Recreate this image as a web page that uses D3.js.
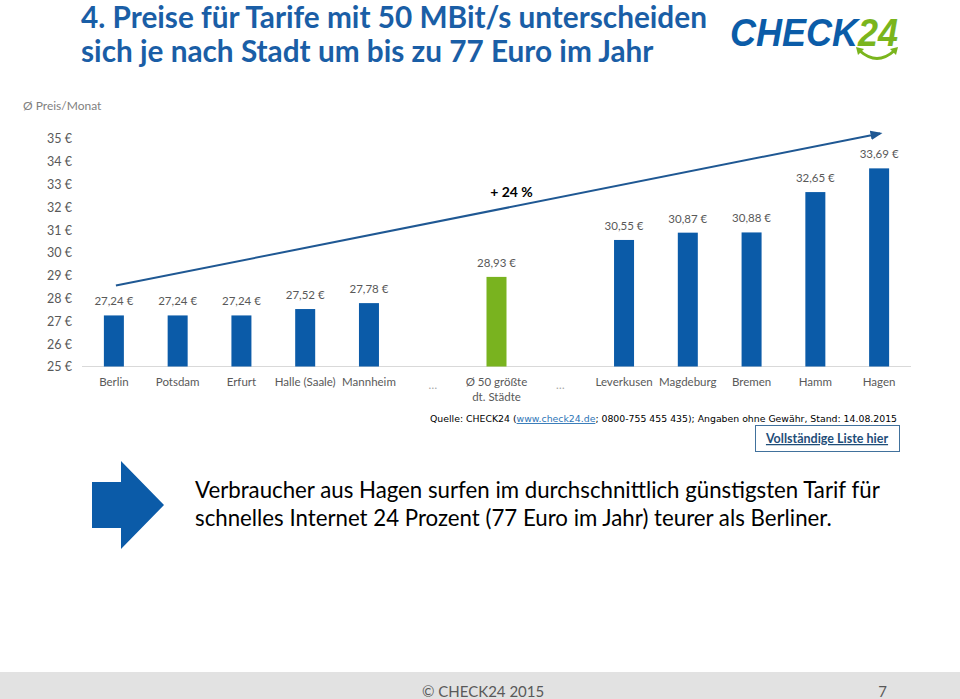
<!DOCTYPE html>
<html>
<head>
<meta charset="utf-8">
<script src="https://cdn.jsdelivr.net/npm/d3@7"></script>
<style>
html,body{margin:0;padding:0;background:#fff;}
svg{display:block;}
</style>
</head>
<body>
<svg id="chart" width="960" height="699"></svg>
<script>
// ---- data ----
const categories = ["Berlin","Potsdam","Erfurt","Halle (Saale)","Mannheim","…","Ø 50 größte|dt. Städte","…","Leverkusen","Magdeburg","Bremen","Hamm","Hagen"];
const values = [27.24,27.24,27.24,27.52,27.78,null,28.93,null,30.55,30.87,30.88,32.65,33.69];
const highlight = [false,false,false,false,false,false,true,false,false,false,false,false,false];
const yTicks = [25,26,27,28,29,30,31,32,33,34,35];
const titleLines = ["4. Preise für Tarife mit 50 MBit/s unterscheiden","sich je nach Stadt um bis zu 77 Euro im Jahr"];
const bodyLines = ["Verbraucher aus Hagen surfen im durchschnittlich günstigsten Tarif für","schnelles Internet 24 Prozent (77 Euro im Jahr) teurer als Berliner."];
const trendFrom = 28.55, trendTo = 35.22, trendLabel = "+ 24 %";

const svg = d3.select("#chart");
const FONT = "Lato, 'Open Sans', sans-serif";

function fit(sel, w){
  const n = sel.node();
  const cur = parseFloat(sel.attr("font-size"));
  const len = n.getComputedTextLength();
  if(len>0) sel.attr("font-size", (cur*w/len).toFixed(2));
  return sel;
}

// ---- title ----
const tBase=[28,62];
let tSize=null;
titleLines.forEach((t,i)=>{
  const s = svg.append("text").attr("x",81).attr("y",tBase[i])
    .attr("font-family",FONT).attr("font-weight","bold").attr("font-size",27)
    .attr("fill","#1a5ea6").text(t);
  if(i===0){ fit(s,626); tSize=s.attr("font-size"); }
  else s.attr("font-size", tSize);
});

// ---- logo ----
const logo = svg.append("g");
const lt = logo.append("text").attr("x",730).attr("y",46).attr("font-family","'Liberation Sans', Arial, sans-serif")
  .attr("font-weight","bold").attr("font-style","italic").attr("font-size",39)
  .attr("textLength",168).attr("lengthAdjust","spacingAndGlyphs");
lt.append("tspan").attr("fill","#0b5ca8").text("CHECK");
lt.append("tspan").attr("fill","#7ab51d").text("24");
logo.append("path").attr("d","M860,51 Q877,66 894,51").attr("fill","none").attr("stroke","#7ab51d").attr("stroke-width",3);
logo.append("path").attr("d","M856,47 L864,49 L858,55 Z").attr("fill","#7ab51d");
logo.append("path").attr("d","M898,47 L890,49 L896,55 Z").attr("fill","#7ab51d");

// ---- y label ----
svg.append("text").attr("x",23).attr("y",110).attr("font-family",FONT).attr("font-size",12)
  .attr("fill","#7f7f7f").text("Ø Preis/Monat");

// ---- scales ----
const x = d3.scaleBand().domain(d3.range(categories.length)).range([82,911]).padding(0);
const y = d3.scaleLinear().domain([25,35]).range([366.5,138.5]);
const barW = 20;

// y axis
const yAxis = d3.axisLeft(y).tickValues(yTicks).tickFormat(d=>d+" €").tickSize(0).tickPadding(0);
const yg = svg.append("g").attr("transform","translate(72,0)").call(yAxis);
yg.select(".domain").remove();
yg.selectAll("text").attr("font-family",FONT).attr("font-size",12.5).attr("fill","#595959").attr("dy","0.35em");

// baseline
svg.append("line").attr("x1",82).attr("x2",911).attr("y1",y(25)).attr("y2",y(25))
  .attr("stroke","#d9d9d9").attr("stroke-width",1);

// bars
const data = categories.map((c,i)=>({i,c,v:values[i],h:highlight[i]}));
svg.append("g").selectAll("rect").data(data.filter(d=>d.v!==null)).join("rect")
  .attr("x",d=>x(d.i)+x.bandwidth()/2-barW/2).attr("width",barW)
  .attr("y",d=>y(d.v)).attr("height",d=>y(25)-y(d.v))
  .attr("fill",d=>d.h?"#79b31f":"#0b5ba8");

// value labels
svg.append("g").selectAll("text").data(data.filter(d=>d.v!==null)).join("text")
  .attr("x",d=>x(d.i)+x.bandwidth()/2).attr("y",d=>y(d.v)-10)
  .attr("text-anchor","middle").attr("font-family",FONT).attr("font-size",11.5).attr("fill","#595959")
  .text(d=>d.v.toFixed(2).replace(".",",")+" €");

// x labels
const xl = svg.append("g").selectAll("text").data(data).join("text")
  .attr("x",d=>x(d.i)+x.bandwidth()/2).attr("y",386)
  .attr("text-anchor","middle").attr("font-family",FONT).attr("font-size",11.5)
  .attr("fill",d=>d.c==="…"?"#a6a6a6":"#595959");
xl.each(function(d){
  const parts=d.c.split("|");
  d3.select(this).selectAll("tspan").data(parts).join("tspan")
    .attr("x",x(d.i)+x.bandwidth()/2).attr("dy",(p,k)=>k===0?(d.c==="…"?3:0):15).text(p=>p);
});

// trend arrow
const defs = svg.append("defs");
defs.append("marker").attr("id","ah").attr("viewBox","0 0 10 10").attr("refX",8).attr("refY",5)
  .attr("markerWidth",6).attr("markerHeight",6).attr("orient","auto")
  .append("path").attr("d","M0,1 L10,5 L0,9 Z").attr("fill","#1f5893");
svg.append("line").attr("x1",x(0)+x.bandwidth()/2+2).attr("y1",y(trendFrom))
  .attr("x2",x(12)+x.bandwidth()/2+1).attr("y2",y(trendTo))
  .attr("stroke","#1f5893").attr("stroke-width",2).attr("marker-end","url(#ah)");
svg.append("text").attr("x",x(6)+x.bandwidth()/2+15).attr("y",197).attr("text-anchor","middle")
  .attr("font-family",FONT).attr("font-weight","bold").attr("font-size",14).attr("fill","#000")
  .text(trendLabel);

// source
const src = svg.append("text").attr("x",430).attr("y",422).attr("font-family","'DejaVu Sans', Verdana, sans-serif")
  .attr("font-size",10).attr("fill","#000");
src.append("tspan").text("Quelle: CHECK24 (");
src.append("tspan").attr("fill","#2e75b6").attr("text-decoration","underline").text("www.check24.de");
src.append("tspan").text("; 0800-755 455 435); Angaben ohne Gewähr, Stand: 14.08.2015");
fit(src,467);

// button
svg.append("rect").attr("x",755.5).attr("y",425.5).attr("width",144).attr("height",26)
  .attr("fill","#fff").attr("stroke","#41719c").attr("stroke-width",1);
svg.append("text").attr("x",827).attr("y",443).attr("text-anchor","middle")
  .attr("font-family",FONT).attr("font-weight","bold").attr("font-size",12.5)
  .attr("fill","#1f4e79").attr("text-decoration","underline").text("Vollständige Liste hier");

// big arrow
svg.append("path").attr("d","M92,482 L121,482 L121,461 L164,505 L121,549 L121,528 L92,528 Z").attr("fill","#0b5ba8");

// body text
const bBase=[498,526];
let bSize=null;
bodyLines.forEach((t,i)=>{
  const s = svg.append("text").attr("x",195).attr("y",bBase[i]).attr("font-family",FONT)
    .attr("font-size",20).attr("fill","#000").text(t);
  if(i===0){ fit(s,685); bSize=s.attr("font-size"); } else s.attr("font-size",bSize);
});

// footer
svg.append("rect").attr("x",0).attr("y",672).attr("width",960).attr("height",27).attr("fill","#e2e2e2");
svg.append("text").attr("x",422).attr("y",697).attr("font-family",FONT).attr("font-size",15).attr("fill","#595959").text("© CHECK24 2015");
svg.append("text").attr("x",887).attr("y",697).attr("text-anchor","end").attr("font-family",FONT).attr("font-size",15).attr("fill","#595959").text("7");
</script>
</body>
</html>
